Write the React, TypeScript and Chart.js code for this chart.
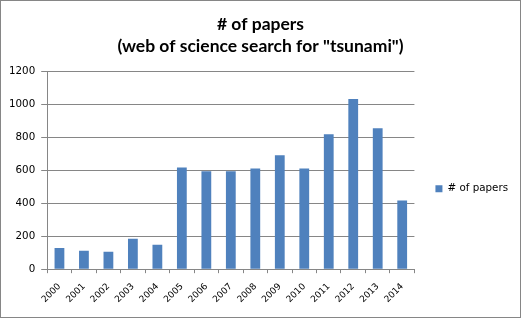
import React, { useEffect, useRef } from "react";
import { Chart, registerables } from "chart.js";

Chart.register(...registerables);

const years = ["2000", "2001", "2002", "2003", "2004", "2005", "2006", "2007", "2008", "2009", "2010", "2011", "2012", "2013", "2014"];
const papers = [128, 112, 106, 185, 148, 618, 596, 596, 612, 692, 612, 820, 1034, 857, 417];
const seriesName = "# of papers";
const titleLines = ["# of papers", '(web of science search for "tsunami")'];

export default function App() {
  const ref = useRef<HTMLCanvasElement | null>(null);
  useEffect(() => {
    document.body.style.margin = "0";
    const ctx = ref.current!;
    const chart = new Chart(ctx, {
      type: "bar",
      data: {
        labels: years,
        datasets: [
          {
            label: seriesName,
            data: papers,
            backgroundColor: "#4F81BD",
            borderWidth: 0,
            barPercentage: 0.4,
            categoryPercentage: 1,
          },
        ],
      },
      options: {
        animation: false,
        responsive: false,
        layout: { padding: { left: 2, right: 2, top: 8, bottom: 4 } },
        plugins: {
          title: {
            display: true,
            text: titleLines,
            color: "#000",
            font: { family: "Lato", weight: "bold", size: 17.5, lineHeight: 1.28 },
            padding: { top: 4, bottom: 14 },
          },
          legend: {
            position: "right",
            title: { display: true, text: " ", padding: { top: 46, bottom: 0 }, font: { size: 8 } },
            labels: {
              boxWidth: 7,
              boxHeight: 7,
              color: "#000",
              font: { family: "DejaVu Sans", size: 10.3 },
              padding: 21,
            },
          },
          tooltip: { enabled: false },
        },
        scales: {
          x: {
            grid: {
              offset: true,
              drawOnChartArea: false,
              drawTicks: true,
              tickLength: 4,
              color: "#868686",
            },
            border: { display: true, color: "#868686" },
            ticks: {
              minRotation: 45,
              maxRotation: 45,
              color: "#000",
              font: { family: "DejaVu Sans", size: 9 },
              padding: 8,
            },
          },
          y: {
            min: 0,
            max: 1200,
            ticks: {
              stepSize: 200,
              color: "#000",
              font: { family: "DejaVu Sans", size: 10.3 },
              padding: 6,
              callback: (v: any) => String(v),
            },
            grid: { color: "#868686", tickLength: 6 },
            border: { display: true, color: "#868686" },
          },
        },
      },
    });
    return () => chart.destroy();
  }, []);
  return (
    <div style={{ width: 521, height: 318, border: "1px solid #868686", boxSizing: "border-box" }}>
      <canvas ref={ref} width={519} height={316} style={{ display: "block" }} />
    </div>
  );
}
